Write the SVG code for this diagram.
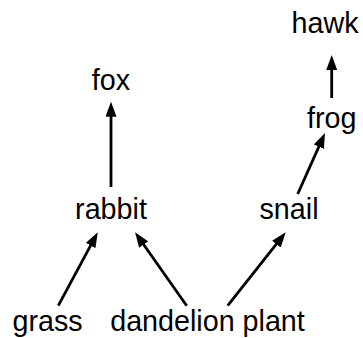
<svg xmlns="http://www.w3.org/2000/svg" width="363" height="338" viewBox="0 0 363 338">
<style>
text{font-family:"Liberation Sans",Arial,Helvetica,sans-serif;font-size:28.7px;fill:#000;text-anchor:middle}
.e{stroke:#000;stroke-width:2.8;fill:none;marker-end:url(#ah)}
</style>
<defs>
<marker id="ah" markerUnits="userSpaceOnUse" markerWidth="15" markerHeight="11" refX="5" refY="5.5" orient="auto">
<path d="M0,0 L15,5.5 L0,11 z" fill="#000"/>
</marker>
</defs>
<rect width="363" height="338" fill="#fff"/>
<g id="connectors">
<line class="e" x1="111" y1="187" x2="111" y2="111.7"/>
<line class="e" x1="331.7" y1="98" x2="331.7" y2="65"/>
<line class="e" x1="297.7" y1="194" x2="320.9" y2="142.1"/>
<line class="e" x1="58.3" y1="305.7" x2="93" y2="241.1"/>
<line class="e" x1="186.7" y1="305.7" x2="140.8" y2="240.5"/>
<line class="e" x1="227.7" y1="305.7" x2="279.5" y2="240.2"/>
</g>
<g id="hawk"><text x="325" y="33">hawk</text></g>
<g id="fox"><text x="111" y="90">fox</text></g>
<g id="frog"><text x="331.7" y="128">frog</text></g>
<g id="rabbit"><text x="111" y="219">rabbit</text></g>
<g id="snail"><text x="289" y="219">snail</text></g>
<g id="grass"><text x="47.5" y="331">grass</text></g>
<g id="dandelion_plant"><text x="207.5" y="331">dandelion plant</text></g>
</svg>
